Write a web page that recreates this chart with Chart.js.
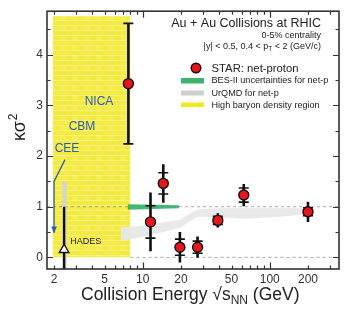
<!DOCTYPE html>
<html>
<head>
<meta charset="utf-8">
<script src="https://cdn.jsdelivr.net/npm/chart.js@4.4.1/dist/chart.umd.min.js"></script>
<style>
  html, body { margin: 0; padding: 0; background: #fff; }
  canvas { display: block; }
</style>
</head>
<body>
<canvas id="c" width="349" height="312"></canvas>
<script>
// ---- Daten ----
const starEnergy  = [7.7, 11.5, 14.5, 19.6, 27, 39, 62.4, 200];
const starKappa   = [3.43, 0.70, 1.46, 0.20, 0.20, 0.73, 1.23, 0.90];
const starStatErr = [1.19, 0.58, 0.38, 0.30, 0.21, 0.14, 0.22, 0.20];
const starSysErr  = [1.19, 0.32, 0.21, 0.16, 0.12, 0.08, 0.14, 0.08];

const hadesEnergy = [2.4];
const hadesKappa  = [0.15];
const hadesErrHi  = [1.0];
const hadesErrLo  = [-0.25];

const urqmdEnergy = [6.7, 10, 19.5, 27, 40, 64, 120, 210];
const urqmdLo     = [0.32, 0.40, 0.58, 0.80, 0.79, 0.76, 0.80, 0.86];
const urqmdHi     = [0.59, 0.63, 0.74, 0.95, 0.97, 0.97, 0.97, 0.97];

const hadesUrqmdX   = [2.32, 2.52];
const hadesUrqmdTop = [1.5, 1.5];
const hadesUrqmdBot = -0.25;

const besEnergy = [7.6, 19.3];
const besLo     = [0.94, 0.97];
const besHi     = [1.05, 1.03];

const yellowX   = [1.95, 8.0];
const yellowTop = [4.76, 4.76];

const zeroLineX = [8.0, 351];
const oneLineX  = [1.76, 351];

const ceeX = [2.44, 2.0, 2.0];
const ceeY = [1.93, 1.5, 0.49];

const xTicks  = [2,3,4,5,6,7,8,9,10,20,30,40,50,60,70,80,90,100,200,300];
const xLabels = [2,5,10,20,50,100,200];
const xMajor  = [10,100];
const yTicks  = [0,0.5,1,1.5,2,2.5,3,3.5,4,4.5];
const yLabels = [0,1,2,3,4];

const FONT = "'Liberation Sans', Arial, Helvetica, sans-serif";
const BLUE = "#2a5fae";

const pts = (xs, ys) => xs.map((x, i) => ({ x, y: Array.isArray(ys) ? ys[i] : ys }));

// ---- Muster ----
function yellowPattern(){
  const c = document.createElement("canvas");
  c.width = 12; c.height = 10;
  const g = c.getContext("2d");
  g.fillStyle = "#f3eb40"; g.fillRect(0, 0, 12, 10);
  g.fillStyle = "#f6f07e"; g.fillRect(0, 0, 12, 1); g.fillRect(0, 5, 12, 1);
  g.fillStyle = "#f5ee6a";
  for (let y = 6; y < 10; y++) for (let x = 0; x < 6; x++) if ((x + y) % 2 === 0) g.fillRect(x, y, 1, 1);
  return g.createPattern(c, "repeat");
}

// ---- Fehlerbalken ----
const errorBars = {
  id: "errorBars",
  beforeDatasetDraw(chart, args){
    const ds = chart.data.datasets[args.index];
    const xs = chart.scales.x, ys = chart.scales.y, ctx = chart.ctx;
    const a = chart.chartArea;
    ctx.save();
    ctx.beginPath(); ctx.rect(a.left, a.top, a.right - a.left, a.bottom - a.top); ctx.clip();
    ctx.strokeStyle = "#111";
    if (ds.label === "STAR"){
      starEnergy.forEach((e, i) => {
        const px = xs.getPixelForValue(e);
        ctx.lineWidth = 2.6;
        ctx.beginPath();
        ctx.moveTo(px, ys.getPixelForValue(starKappa[i] + starStatErr[i]));
        ctx.lineTo(px, ys.getPixelForValue(starKappa[i] - starStatErr[i]));
        ctx.stroke();
        ctx.lineWidth = 1.6;
        [starKappa[i] + starSysErr[i], starKappa[i] - starSysErr[i]].forEach(v => {
          const py = ys.getPixelForValue(v);
          ctx.beginPath(); ctx.moveTo(px - 5, py); ctx.lineTo(px + 5, py); ctx.stroke();
        });
      });
    }
    if (ds.label === "HADES"){
      hadesEnergy.forEach((e, i) => {
        const px = xs.getPixelForValue(e);
        ctx.lineWidth = 2.4;
        ctx.beginPath();
        ctx.moveTo(px, ys.getPixelForValue(hadesErrHi[i]));
        ctx.lineTo(px, ys.getPixelForValue(hadesErrLo[i]));
        ctx.stroke();
      });
    }
    ctx.restore();
  }
};

// ---- Rahmen, Ticks, Texte ----
const decorations = {
  id: "decorations",
  afterDraw(chart){
    const ctx = chart.ctx, a = chart.chartArea;
    const xs = chart.scales.x, ys = chart.scales.y;
    ctx.save();
    ctx.strokeStyle = "#333"; ctx.lineWidth = 1.2;
    yTicks.forEach(v => {
      const py = Math.round(ys.getPixelForValue(v)) + 0.5;
      const len = yLabels.includes(v) ? 6 : 3.5;
      ctx.beginPath();
      ctx.moveTo(a.left, py); ctx.lineTo(a.left + len, py);
      ctx.moveTo(a.right, py); ctx.lineTo(a.right - len, py);
      ctx.stroke();
    });
    xTicks.forEach(v => {
      const px = Math.round(xs.getPixelForValue(v)) + 0.5;
      const len = xMajor.includes(v) ? 6.5 : 3.5;
      ctx.beginPath();
      ctx.moveTo(px, a.bottom); ctx.lineTo(px, a.bottom - len);
      ctx.moveTo(px, a.top); ctx.lineTo(px, a.top + len);
      ctx.stroke();
    });
    ctx.lineWidth = 1.6; ctx.strokeStyle = "#333";
    ctx.strokeRect(a.left, a.top, a.right - a.left, a.bottom - a.top);

    // CEE-Pfeilspitze
    const ax = xs.getPixelForValue(ceeX[2]), ay = ys.getPixelForValue(ceeY[2]);
    ctx.fillStyle = BLUE;
    ctx.beginPath(); ctx.moveTo(ax, ay + 1); ctx.lineTo(ax - 2.8, ay - 6); ctx.lineTo(ax + 2.8, ay - 6); ctx.closePath(); ctx.fill();

    // Beschriftungen im Plot
    const label = (txt, e, v, size, color) => {
      ctx.font = `${size}px ${FONT}`; ctx.fillStyle = color;
      ctx.textAlign = "center"; ctx.textBaseline = "middle";
      ctx.fillText(txt, xs.getPixelForValue(e), ys.getPixelForValue(v));
    };
    label("NICA", 4.52, 3.08, 12, BLUE);
    label("CBM", 3.32, 2.58, 12, BLUE);
    label("CEE", 2.53, 2.15, 12, BLUE);
    label("HADES", 3.55, 0.31, 9, "#222");

    // Titel
    ctx.fillStyle = "#222"; ctx.textAlign = "right"; ctx.textBaseline = "alphabetic";
    ctx.font = `12.5px ${FONT}`;
    ctx.fillText("Au + Au Collisions at RHIC", 321, 27);
    ctx.font = `9px ${FONT}`;
    ctx.fillText("0-5% centrality", 321, 38);
    let rx = 321;
    const part = (t, y, f) => { ctx.font = f; ctx.fillText(t, rx, y); rx -= ctx.measureText(t).width; };
    part(" < 2 (GeV/c)", 49, `9px ${FONT}`);
    part("T", 51, `6.5px ${FONT}`);
    part("|y| < 0.5, 0.4 < p", 49, `9px ${FONT}`);

    // Legende
    ctx.beginPath(); ctx.arc(196, 68, 4.8, 0, Math.PI * 2);
    ctx.fillStyle = "#e8151c"; ctx.fill(); ctx.lineWidth = 1.4; ctx.strokeStyle = "#111"; ctx.stroke();
    ctx.fillStyle = "#3fb46e"; ctx.fillRect(181, 78, 23, 5.5);
    ctx.fillStyle = "#cfcfcf"; ctx.fillRect(181, 90.5, 23, 5);
    ctx.fillStyle = "#f1e821"; ctx.fillRect(181, 102.5, 23, 4.5);
    ctx.fillStyle = "#222"; ctx.textAlign = "left"; ctx.textBaseline = "middle";
    ctx.font = `11.3px ${FONT}`; ctx.fillText("STAR: net-proton", 211.5, 68.5);
    ctx.font = `9.1px ${FONT}`;
    ctx.fillText("BES-II uncertainties for net-p", 211.5, 80.5);
    ctx.fillText("UrQMD for net-p", 211.5, 93);
    ctx.fillText("High baryon density region", 211.5, 105);

    // Achsentitel
    ctx.textAlign = "left"; ctx.textBaseline = "alphabetic"; ctx.fillStyle = "#222";
    let tx = 81;
    const seg = (t, y, f) => { ctx.font = f; ctx.fillText(t, tx, y); tx += ctx.measureText(t).width; };
    seg("Collision Energy \u221As", 299.5, `17.5px ${FONT}`);
    seg("NN", 304, `12px ${FONT}`);
    seg(" (GeV)", 299.5, `17.5px ${FONT}`);

    ctx.translate(25, 131); ctx.rotate(-Math.PI / 2);
    ctx.textAlign = "center";
    ctx.font = `18px ${FONT}`; ctx.fillText("\u03BA\u03C3", 0, 0);
    ctx.font = `12px ${FONT}`; ctx.fillText("2", 14, -8);
    ctx.restore();
  }
};

// ---- Chart ----
const line = (data, extra) => Object.assign({
  data, showLine: true, pointRadius: 0, borderWidth: 0, fill: false
}, extra);

new Chart(document.getElementById("c"), {
  type: "scatter",
  data: {
    datasets: [
      { label: "STAR", data: pts(starEnergy, starKappa), order: 0,
        pointRadius: 5, pointBackgroundColor: "#e8151c", pointBorderColor: "#111", pointBorderWidth: 1.4 },
      { label: "HADES", data: pts(hadesEnergy, hadesKappa), order: 1, pointStyle: "triangle",
        pointRadius: 5.5, pointBackgroundColor: "#fff", pointBorderColor: "#111", pointBorderWidth: 1.4 },
      line(pts(ceeX, ceeY), { label: "CEE", order: 2, borderColor: BLUE, borderWidth: 1.3 }),
      line(pts(besEnergy, besHi), { label: "BES hi", order: 4, fill: "+1", backgroundColor: "rgba(52,176,102,0.9)" }),
      line(pts(besEnergy, besLo), { label: "BES lo", order: 4 }),
      line(pts(urqmdEnergy, urqmdHi), { label: "UrQMD hi", order: 5, fill: "+1", backgroundColor: "rgba(232,232,232,0.95)" }),
      line(pts(urqmdEnergy, urqmdLo), { label: "UrQMD lo", order: 5 }),
      line(pts(hadesUrqmdX, hadesUrqmdTop), { label: "UrQMD HADES", order: 5, fill: { value: hadesUrqmdBot }, backgroundColor: "#d4d4d4" }),
      line(pts(oneLineX, 1), { label: "one", order: 6, borderWidth: 1, borderColor: "rgba(120,120,120,0.6)", borderDash: [3, 3] }),
      line(pts(zeroLineX, 0), { label: "zero", order: 6, borderWidth: 1, borderColor: "rgba(120,120,120,0.6)", borderDash: [3, 3] }),
      line(pts(yellowX, yellowTop), { label: "yellow", order: 9, fill: { value: 0 }, backgroundColor: yellowPattern() })
    ]
  },
  options: {
    responsive: false,
    animation: false,
    events: [],
    layout: { padding: { top: 8, right: 10, left: 0, bottom: 0 } },
    plugins: { legend: { display: false }, tooltip: { enabled: false } },
    scales: {
      x: {
        type: "logarithmic", min: 1.76, max: 351,
        afterBuildTicks: s => { s.ticks = xTicks.map(v => ({ value: v })); },
        afterFit: s => { s.height = 43; },
        grid: { display: false, drawTicks: false },
        border: { display: false },
        ticks: {
          autoSkip: false, maxRotation: 0, padding: 3, color: "#333",
          font: { family: FONT, size: 12 },
          callback: v => xLabels.includes(v) ? String(v) : ""
        }
      },
      y: {
        min: -0.23, max: 4.86,
        afterBuildTicks: s => { s.ticks = yTicks.map(v => ({ value: v })); },
        afterFit: s => { s.width = 47; },
        grid: { display: false, drawTicks: false },
        border: { display: false },
        ticks: {
          padding: 4, color: "#333",
          font: { family: FONT, size: 12 },
          callback: v => yLabels.includes(v) ? String(v) : ""
        }
      }
    }
  },
  plugins: [errorBars, decorations]
});
</script>
</body>
</html>
